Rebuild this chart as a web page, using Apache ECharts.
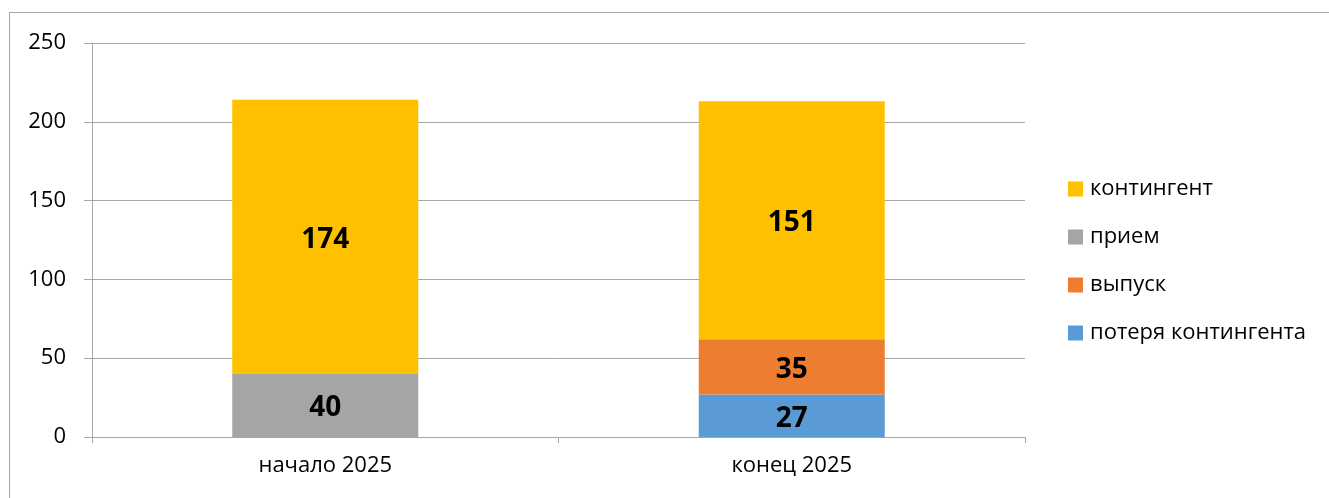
<!DOCTYPE html>
<html>
<head>
<meta charset="utf-8">
<script src="https://cdn.jsdelivr.net/npm/echarts@6/dist/echarts.min.js"></script>
<style>
  html, body { margin: 0; padding: 0; background: #fff; }
  #frame { position: absolute; left: 9px; top: 12px; width: 1400px; height: 600px; border: 1px solid #a6a6a6; box-sizing: border-box; }
  #chart { position: absolute; left: 0; top: 0; width: 1329px; height: 498px; }
</style>
</head>
<body>
<div id="frame"></div>
<div id="chart"></div>
<script>
const categories = ['начало 2025', 'конец 2025']
const loss = [null, 27]
const graduation = [null, 35]
const admission = [40, null]
const contingent = [174, 151]
const legendOrder = ['контингент', 'прием', 'выпуск', 'потеря контингента']

const font = 'Open Sans'
const labelStyle = { show: true, position: 'inside', offset: [0, 3], color: '#000', fontFamily: font, fontWeight: 'bold', fontSize: 28 }

function bar(name, data, color) {
  return {
    name,
    type: 'bar',
    stack: 'total',
    barWidth: 186,
    data,
    itemStyle: { color },
    label: labelStyle,
  }
}

const chart = echarts.init(document.getElementById('chart'))
chart.setOption({
  backgroundColor: 'transparent',
  animation: false,
  grid: { left: 92, right: 304, top: 43, bottom: 61 },
  legend: {
    orient: 'vertical',
    left: 1063,
    top: 173,
    data: legendOrder,
    icon: 'rect',
    itemWidth: 15,
    itemHeight: 15,
    itemGap: 26,
    textStyle: { color: '#000', fontFamily: font, fontSize: 22, lineHeight: 19, padding: [0, 0, 0, 2] },
  },
  xAxis: {
    type: 'category',
    data: categories,
    axisLine: { lineStyle: { color: '#a6a6a6', width: 1 } },
    axisTick: { show: true, length: 6, lineStyle: { color: '#a6a6a6' } },
    axisLabel: { color: '#000', fontFamily: font, fontSize: 22, margin: 18 },
  },
  yAxis: {
    type: 'value',
    min: 0,
    max: 250,
    interval: 50,
    axisLine: { show: true, lineStyle: { color: '#a6a6a6', width: 1 } },
    axisTick: { show: true, length: 8, lineStyle: { color: '#a6a6a6' } },
    axisLabel: { color: '#000', fontFamily: font, fontSize: 22, margin: 26 },
    splitLine: { lineStyle: { color: '#a6a6a6', width: 1 } },
  },
  series: [
    bar('потеря контингента', loss, '#5B9BD5'),
    bar('выпуск', graduation, '#ED7D31'),
    bar('прием', admission, '#A5A5A5'),
    bar('контингент', contingent, '#FFC000'),
  ],
})
</script>
</body>
</html>
